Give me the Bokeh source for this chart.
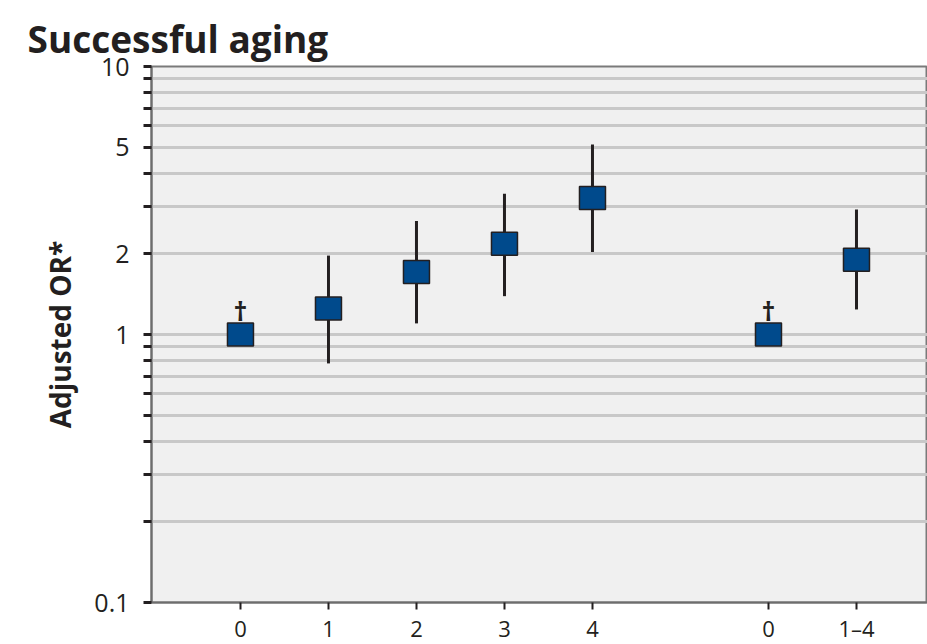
from bokeh.plotting import figure
from bokeh.models import Range1d, FixedTicker, CustomJSTickFormatter, ColumnDataSource
from bokeh.embed import file_html
from bokeh.resources import INLINE
from bokeh.core.properties import value

# ---- data ----
group_a = ["0", "1", "2", "3", "4"]
group_b = ["0", "1\u20134"]
or_a = [1.0, 1.25, 1.71, 2.18, 3.23]
lo_a = [None, 0.78, 1.10, 1.39, 2.03]
hi_a = [None, 1.97, 2.65, 3.35, 5.12]
or_b = [1.0, 1.90]
lo_b = [None, 1.24]
hi_b = [None, 2.93]
ref_a = [True, False, False, False, False]
ref_b = [True, False]
y_major = [0.1, 1, 2, 5, 10]
y_minor = [0.2, 0.3, 0.4, 0.5, 0.6, 0.7, 0.8, 0.9, 3, 4, 6, 7, 8, 9]
y_grid = [0.2, 0.3, 0.4, 0.5, 0.6, 0.7, 0.8, 0.9, 1, 2, 3, 4, 5, 6, 7, 8, 9]

# positions derived from group order (one empty slot between groups)
xs, labels, ors, los, his, refs = [], [], [], [], [], []
pos = 0
for grp, o, l, h, r in [(group_a, or_a, lo_a, hi_a, ref_a), (group_b, or_b, lo_b, hi_b, ref_b)]:
    for i, lab in enumerate(grp):
        xs.append(pos); labels.append(lab); ors.append(o[i]); los.append(l[i]); his.append(h[i]); refs.append(r[i])
        pos += 1
    pos += 1

FONT = "Open Sans"
DARK = "#231f20"

p = figure(frame_width=776, frame_height=536, output_backend="svg", toolbar_location=None,
           y_axis_type="log", x_range=Range1d(-1.011, 7.807), y_range=Range1d(0.1, 10),
           min_border_left=151, min_border_right=0, min_border_top=66, min_border_bottom=36)

p.background_fill_color = "#f0f0f0"
p.border_fill_color = "white"
p.outline_line_color = "#7a7a7a"
p.outline_line_width = 2

p.title.text = "Successful aging"
p.title.text_font = FONT
p.title.text_font_size = "37px"
p.title.text_font_style = "bold"
p.title.text_color = DARK
p.title.align = "left"
p.title.offset = -124
p.title.standoff = 6

p.xgrid.visible = False
p.ygrid.ticker = FixedTicker(ticks=y_grid)
p.ygrid.grid_line_color = "#c8c8c8"
p.ygrid.grid_line_width = 3

# y axis
ya = p.yaxis[0]
ya.ticker = FixedTicker(ticks=y_major, minor_ticks=y_minor)
ya.formatter = CustomJSTickFormatter(code="return String(tick);")
ya.axis_label = "Adjusted OR*"
ya.axis_label_text_font = FONT
ya.axis_label_text_font_size = "28px"
ya.axis_label_text_font_style = "bold"
ya.axis_label_text_color = DARK
ya.axis_label_standoff = 12
ya.major_label_text_font = FONT
ya.major_label_text_font_size = "25px"
ya.major_label_text_color = DARK
ya.major_label_standoff = 14
ya.axis_line_color = "#6d6d6d"
ya.axis_line_width = 2
ya.major_tick_in = 0
ya.major_tick_out = 8
ya.minor_tick_in = 0
ya.minor_tick_out = 8
ya.major_tick_line_color = DARK
ya.minor_tick_line_color = DARK
ya.major_tick_line_width = 3
ya.minor_tick_line_width = 3

# x axis
xa = p.xaxis[0]
xa.ticker = FixedTicker(ticks=xs)
xa.major_label_overrides = {x: lab for x, lab in zip(xs, labels)}
xa.major_label_text_font = FONT
xa.major_label_text_font_size = "22px"
xa.major_label_text_color = DARK
xa.major_label_standoff = 3
xa.axis_line_color = "#6d6d6d"
xa.axis_line_width = 2
xa.major_tick_in = 0
xa.major_tick_out = 7
xa.major_tick_line_color = DARK
xa.major_tick_line_width = 2
xa.minor_tick_line_color = None

# error bars
ci = ColumnDataSource(dict(x=[x for x, l in zip(xs, los) if l is not None],
                           lo=[l for l in los if l is not None],
                           hi=[h for h in his if h is not None]))
p.segment(x0="x", y0="lo", x1="x", y1="hi", source=ci, line_color=DARK, line_width=3)

# estimates
pts = ColumnDataSource(dict(x=xs, y=ors))
p.rect(x="x", y="y", width=26, height=23, width_units="screen", height_units="screen",
       source=pts, fill_color="#004a8c", line_color=DARK, line_width=1.5)

# reference markers
refsrc = ColumnDataSource(dict(x=[x for x, r in zip(xs, refs) if r],
                               y=[o for o, r in zip(ors, refs) if r],
                               t=["\u2020" for r in refs if r]))
p.text(x="x", y="y", text="t", source=refsrc, text_align="center", text_baseline="bottom",
       y_offset=-6, text_font=value(FONT), text_font_size="27px", text_font_style="bold",
       text_color=DARK)

open("out.html", "w").write(file_html(p, INLINE))
